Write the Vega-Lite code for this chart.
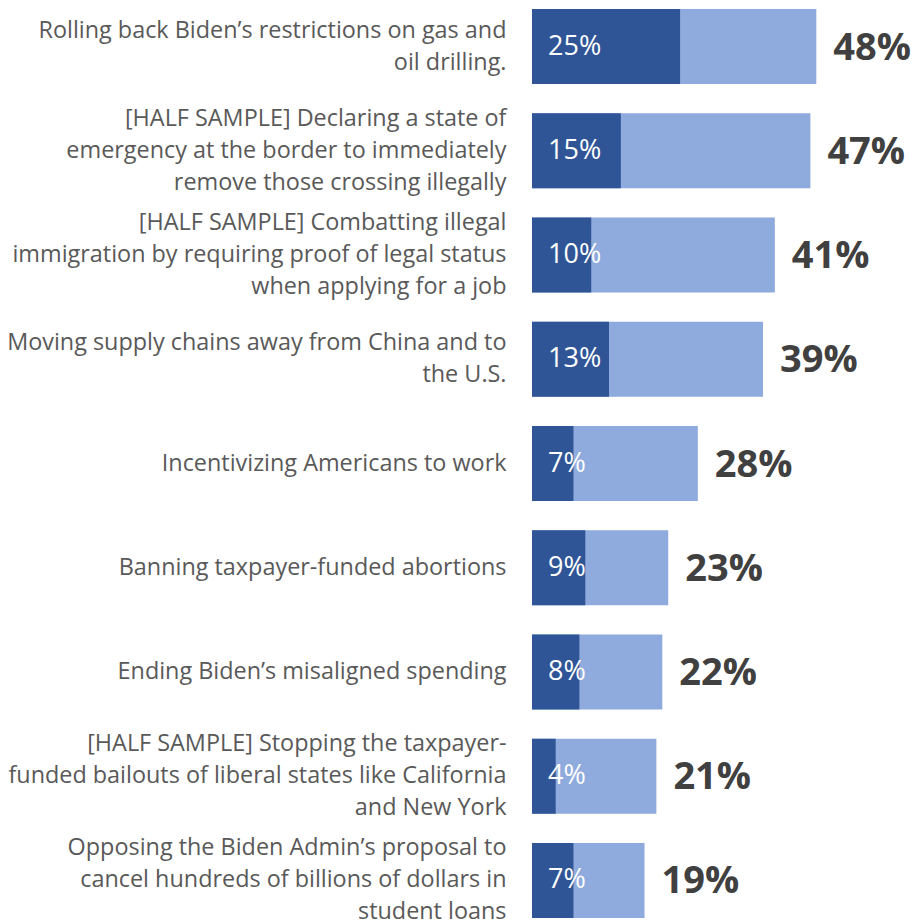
{
  "$schema": "https://vega.github.io/schema/vega-lite/v6.json",
  "width": 385,
  "height": 909,
  "autosize": {"type": "none"},
  "padding": {"left": 532, "top": 9, "right": 0, "bottom": 4},
  "background": "white",
  "config": {"view": {"stroke": null}, "font": "Open Sans"},
  "data": {
    "values": [
      {"item": "Rolling back Biden’s restrictions on gas and|oil drilling.", "base": 25, "total": 48},
      {"item": "[HALF SAMPLE] Declaring a state of|emergency at the border to immediately|remove those crossing illegally", "base": 15, "total": 47},
      {"item": "[HALF SAMPLE] Combatting illegal|immigration by requiring proof of legal status|when applying for a job", "base": 10, "total": 41},
      {"item": "Moving supply chains away from China and to|the U.S.", "base": 13, "total": 39},
      {"item": "Incentivizing Americans to work", "base": 7, "total": 28},
      {"item": "Banning taxpayer-funded abortions", "base": 9, "total": 23},
      {"item": "Ending Biden’s misaligned spending", "base": 8, "total": 22},
      {"item": "[HALF SAMPLE] Stopping the taxpayer-|funded bailouts of liberal states like California|and New York", "base": 4, "total": 21},
      {"item": "Opposing the Biden Admin’s proposal to|cancel hundreds of billions of dollars in|student loans", "base": 7, "total": 19}
    ]
  },
  "encoding": {
    "y": {
      "field": "item",
      "type": "nominal",
      "sort": null,
      "scale": {"paddingInner": 0.28, "paddingOuter": 0},
      "axis": {
        "title": null,
        "domain": false,
        "ticks": false,
        "labelPadding": 26,
        "labelLimit": 0,
        "labelFont": "Open Sans",
        "labelFontSize": 23.4,
        "labelColor": "#595959",
        "labelLineHeight": 32,
        "labelAlign": "right",
        "labelBaseline": "middle",
        "labelOffset": {
          "condition": [
            {"test": "length(split(datum.value, '|')) == 3", "value": -32},
            {"test": "length(split(datum.value, '|')) == 2", "value": -16}
          ],
          "value": 0
        },
        "labelExpr": "split(datum.label, '|')"
      }
    }
  },
  "layer": [
    {
      "mark": {"type": "bar", "color": "#8FAADC"},
      "encoding": {
        "x": {"field": "total", "type": "quantitative", "scale": {"domain": [0, 64.4]}, "axis": null}
      }
    },
    {
      "mark": {"type": "bar", "color": "#2F5597"},
      "encoding": {
        "x": {"field": "base", "type": "quantitative"}
      }
    },
    {
      "mark": {"type": "text", "align": "left", "baseline": "middle", "dx": 16, "color": "white", "fontSize": 27, "font": "Open Sans"},
      "encoding": {
        "x": {"datum": 0, "type": "quantitative"},
        "text": {"field": "lbl", "type": "nominal"}
      },
      "transform": [{"calculate": "datum.base + '%'", "as": "lbl"}]
    },
    {
      "mark": {"type": "text", "align": "left", "baseline": "middle", "dx": 17, "dy": 2, "color": "#404040", "fontSize": 38, "fontWeight": "bold", "font": "Open Sans"},
      "encoding": {
        "x": {"field": "total", "type": "quantitative"},
        "text": {"field": "totlbl", "type": "nominal"}
      },
      "transform": [{"calculate": "datum.total + '%'", "as": "totlbl"}]
    }
  ]
}
